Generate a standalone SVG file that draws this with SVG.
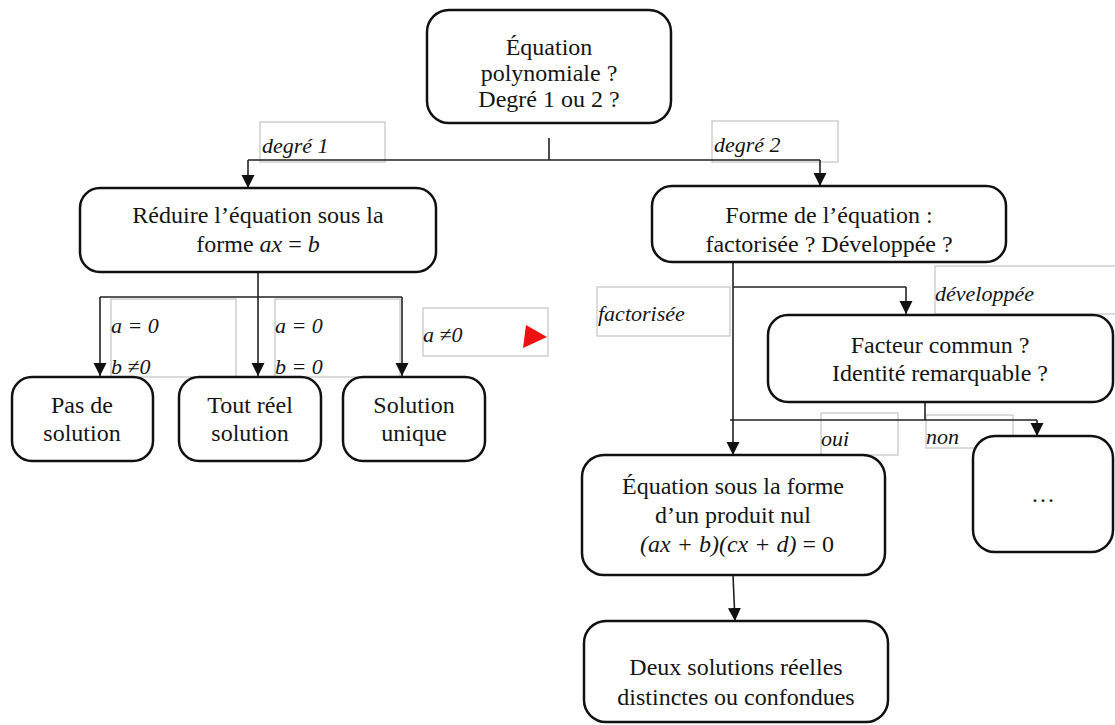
<svg xmlns="http://www.w3.org/2000/svg" width="1115" height="725" viewBox="0 0 1115 725" font-family="'Liberation Serif', 'Times New Roman', 'DejaVu Serif', serif">
<style>
.box{fill:#fff;stroke:#111;stroke-width:2.5}
.t{font-family:'Liberation Serif','Times New Roman','DejaVu Serif',serif;font-size:24px;fill:#151515;text-anchor:middle}
.lb{fill:none;stroke:#c4c4c4;stroke-width:1.2}
.lt{font-family:'Liberation Serif','Times New Roman','DejaVu Serif',serif;font-size:22px;font-style:italic;fill:#151515}
.c{fill:none;stroke:#222;stroke-width:1.6}
.ca{fill:none;stroke:#222;stroke-width:1.6;marker-end:url(#ah)}
.i{font-style:italic}
</style>
<defs>
<marker id="ah" markerUnits="userSpaceOnUse" markerWidth="14" markerHeight="14" refX="13" refY="6.5" orient="auto" viewBox="0 0 14 14">
<path d="M0,0 L13,6.5 L0,13 z" fill="#111"/>
</marker>
</defs>
<rect width="1115" height="725" fill="#fff"/>

<g id="labels">
<rect class="lb" x="260" y="122" width="125" height="40"/>
<text class="lt" x="262" y="153">degré 1</text>
<rect class="lb" x="712" y="121" width="126" height="41"/>
<text class="lt" x="714" y="152">degré 2</text>
<rect class="lb" x="111" y="299" width="125" height="78"/>
<text class="lt" x="111" y="333">a = 0</text>
<text class="lt" x="111" y="374">b ≠0</text>
<rect class="lb" x="275" y="299" width="125" height="78"/>
<text class="lt" x="275" y="333">a = 0</text>
<text class="lt" x="275" y="374">b = 0</text>
<rect class="lb" x="423" y="308" width="125" height="48"/>
<text class="lt" x="423" y="342">a ≠0</text>
<polygon points="526,325 547,337 523,348" fill="#ee1111"/>
<rect class="lb" x="597" y="287" width="133" height="49"/>
<text class="lt" x="598" y="321">factorisée</text>
<rect class="lb" x="935" y="266" width="182" height="48"/>
<text class="lt" x="935" y="301">développée</text>
<rect class="lb" x="821" y="413" width="77" height="42"/>
<text class="lt" x="821" y="446">oui</text>
<rect class="lb" x="926" y="415" width="87" height="33"/>
<text class="lt" x="926" y="444">non</text>
</g>

<g id="connectors">
<path class="c" d="M549,138 V160 M248,160 H820"/>
<path class="ca" d="M248,160 V188"/>
<path class="ca" d="M820,160 V186"/>
<path class="c" d="M100,297 H402"/>
<path class="ca" d="M258,272 V376"/>
<path class="ca" d="M100,297 V376"/>
<path class="ca" d="M402,297 V376"/>
<path class="ca" d="M733,262 V455"/>
<path class="c" d="M733,287 H906"/>
<path class="ca" d="M906,287 V314"/>
<path class="c" d="M925,402 V420 M730,420 H1037"/>
<path class="ca" d="M1037,420 V436"/>
<path class="ca" d="M733,575 L735,621"/>
</g>

<g id="n-top">
<rect class="box" x="427" y="10" width="244" height="113" rx="22"/>
<text class="t" x="549" y="55">Équation</text>
<text class="t" x="549" y="81">polynomiale ?</text>
<text class="t" x="549" y="107">Degré 1 ou 2 ?</text>
</g>
<g id="n-reduire">
<rect class="box" x="80" y="188" width="356" height="84" rx="20"/>
<text class="t" x="258" y="223">Réduire l’équation sous la</text>
<text class="t" x="258" y="252">forme <tspan class="i">ax</tspan> = <tspan class="i">b</tspan></text>
</g>
<g id="n-forme">
<rect class="box" x="652" y="186" width="354" height="76" rx="20"/>
<text class="t" x="829" y="223">Forme de l’équation :</text>
<text class="t" x="829" y="252">factorisée ? Développée ?</text>
</g>
<g id="n-pas">
<rect class="box" x="12" y="377" width="141" height="84" rx="20"/>
<text class="t" x="82" y="413">Pas de</text>
<text class="t" x="82" y="441">solution</text>
</g>
<g id="n-tout">
<rect class="box" x="179" y="377" width="142" height="84" rx="20"/>
<text class="t" x="250" y="413">Tout réel</text>
<text class="t" x="250" y="441">solution</text>
</g>
<g id="n-unique">
<rect class="box" x="343" y="377" width="142" height="84" rx="20"/>
<text class="t" x="414" y="413">Solution</text>
<text class="t" x="414" y="441">unique</text>
</g>
<g id="n-facteur">
<rect class="box" x="768" y="315" width="345" height="87" rx="20"/>
<text class="t" x="940" y="353">Facteur commun ?</text>
<text class="t" x="940" y="381">Identité remarquable ?</text>
</g>
<g id="n-dots">
<rect class="box" x="973" y="436" width="140" height="116" rx="22"/>
<text class="t" x="1043" y="502">…</text>
</g>
<g id="n-produit">
<rect class="box" x="582" y="455" width="303" height="120" rx="22"/>
<text class="t" x="733" y="494">Équation sous la forme</text>
<text class="t" x="733" y="523">d’un produit nul</text>
<text class="t" x="737" y="552"><tspan class="i">(ax + b)(cx + d)</tspan> = 0</text>
</g>
<g id="n-deux">
<rect class="box" x="584" y="621" width="304" height="101" rx="22"/>
<text class="t" x="736" y="675">Deux solutions réelles</text>
<text class="t" x="736" y="705">distinctes ou confondues</text>
</g>
</svg>
